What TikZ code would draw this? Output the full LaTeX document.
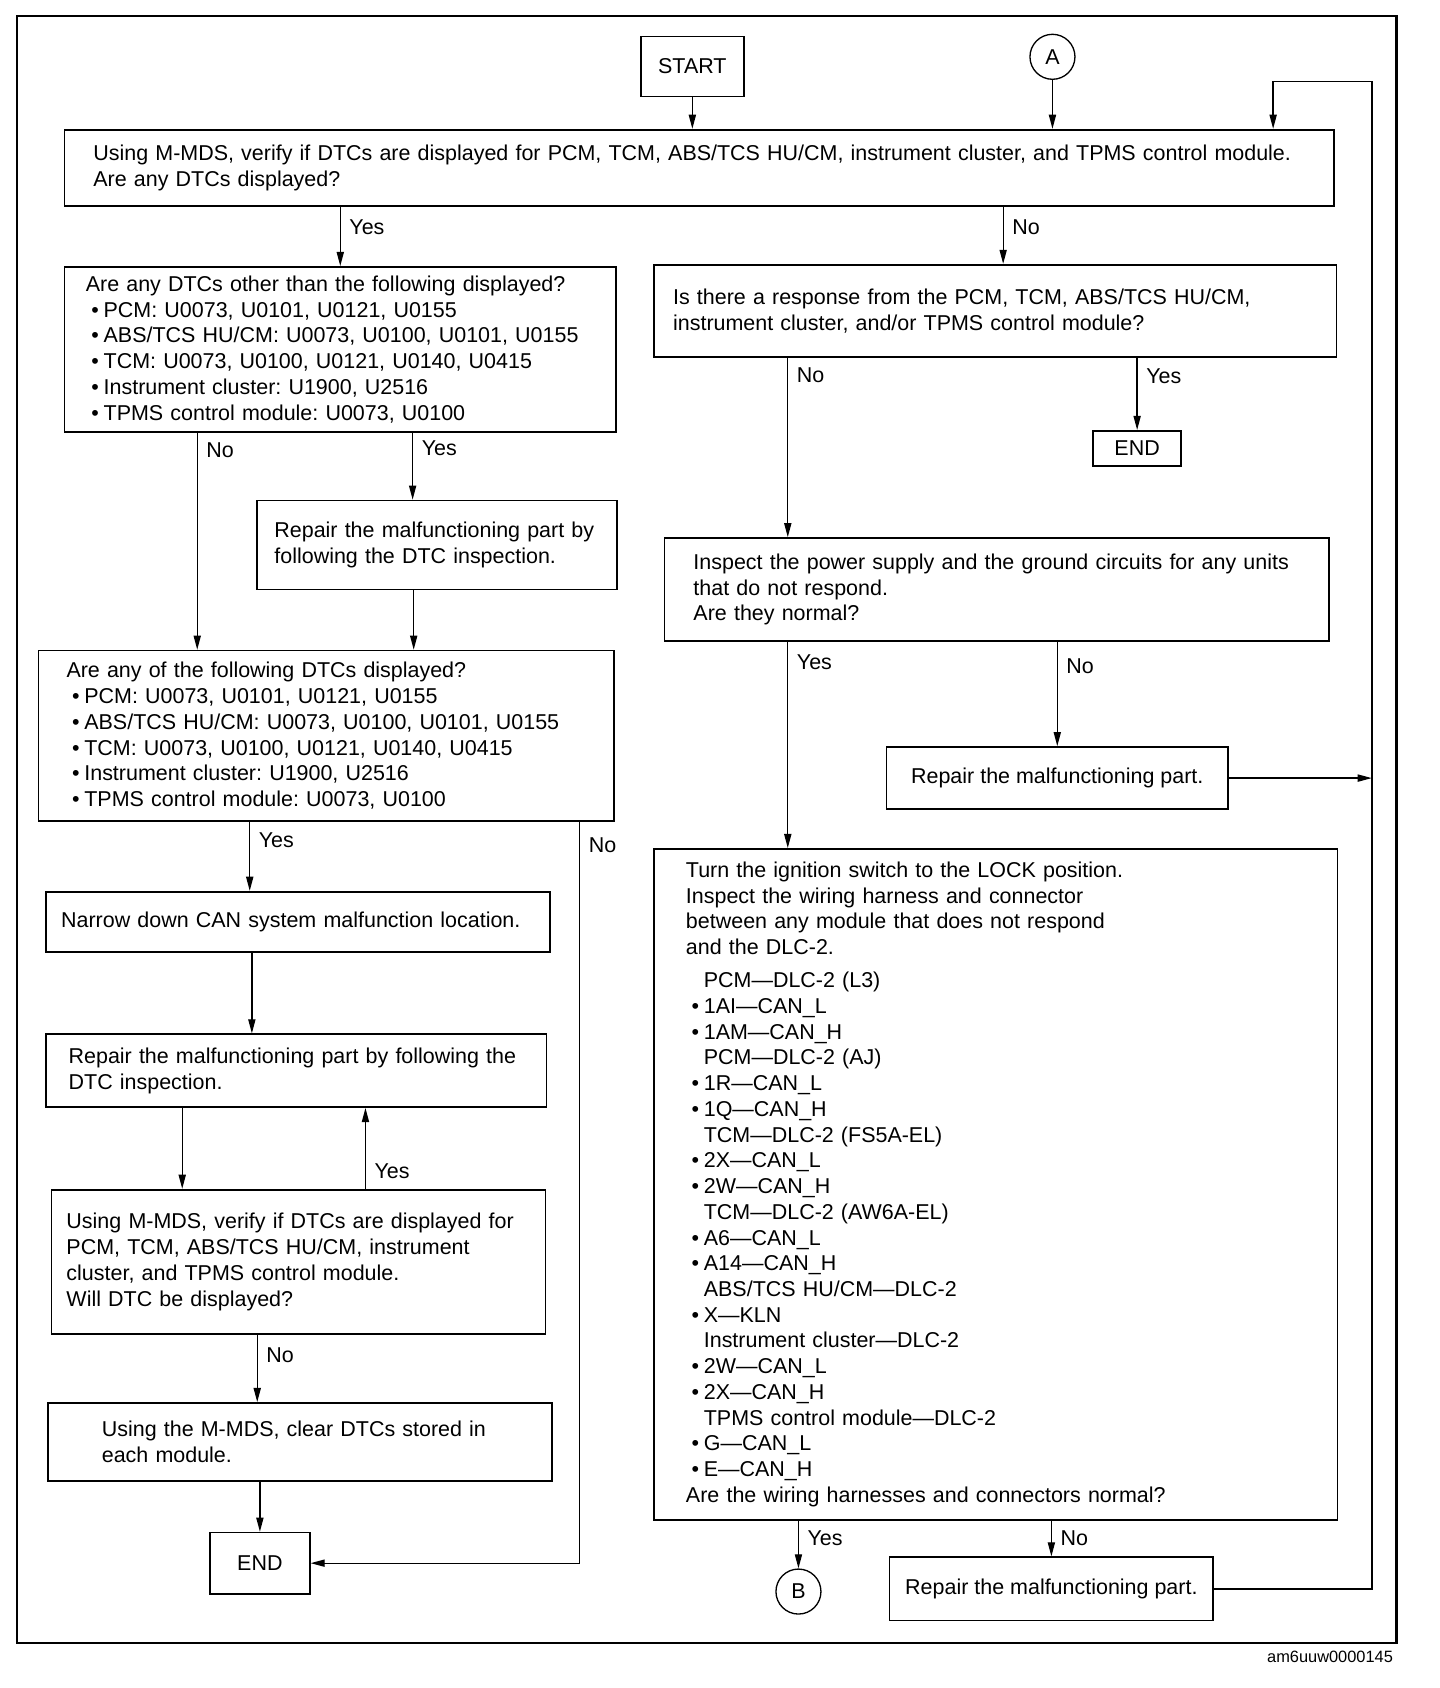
\documentclass[tikz,border=0pt]{standalone}
\usepackage{fontspec}
\setmainfont{Liberation Sans}
\usepackage{tikz}
\usetikzlibrary{arrows.meta, positioning, calc}

\newcommand{\itemb}{\hspace*{3pt}\textbullet\hspace{2.5pt}}
\newcommand{\itemh}{\hspace*{3pt}\phantom{\textbullet}\hspace{2.5pt}}

\begin{document}
\frenchspacing
\begin{tikzpicture}[x=0.02cm, y=-0.02cm,
  box/.style={draw, line width=0.9pt, align=left, inner ysep=0pt, font=\fontsize{11.4}{13.66}\selectfont},
  endbox/.style={draw, line width=0.9pt, align=center, inner sep=0pt, font=\fontsize{11.4}{13.66}\selectfont},
  conn/.style={draw, circle, line width=0.7pt, minimum size=0.84cm, inner sep=0pt, font=\fontsize{11.4}{13.66}\selectfont},
  arr/.style={-{Triangle[length=7.5pt, width=3.8pt]}, line width=0.7pt},
  lbl/.style={right, inner xsep=4.5pt, font=\fontsize{11.4}{13.66}\selectfont}
]
  \useasboundingbox (0,0) rectangle (1343,1575);
  \draw[line width=1.1pt] (16,15) rectangle (1303,1533);
  \node[anchor=east, inner sep=0pt, font=\fontsize{8.7}{10}\selectfont] (tag) at (1300,1546) {am6uuw0000145};

  \node[endbox, minimum width=1.92cm, minimum height=1.12cm] (start) at (646,62) {START};
  \node[conn] (A) at (982,53) {A};
  \node[box, minimum width=23.7cm, minimum height=1.42cm, text width=22.62cm, inner xsep=0.54cm] (verify) at (652.5,156.5) {
    Using M-MDS, verify if DTCs are displayed for PCM, TCM, ABS/TCS HU/CM, instrument cluster, and TPMS control module.\\
    Are any DTCs displayed?};

  % left branch
  \node[box, minimum width=10.3cm, minimum height=3.08cm, text width=9.5cm, inner xsep=0.4cm] (other) at (317.5,326) {
    Are any DTCs other than the following displayed?\\
    \itemb PCM: U0073, U0101, U0121, U0155\\
    \itemb ABS/TCS HU/CM: U0073, U0100, U0101, U0155\\
    \itemb TCM: U0073, U0100, U0121, U0140, U0415\\
    \itemb Instrument cluster: U1900, U2516\\
    \itemb TPMS control module: U0073, U0100};
  \node[box, minimum width=6.72cm, minimum height=1.66cm, text width=6.08cm, inner xsep=0.32cm] (fixdtc) at (408,508.5) {
    Repair the malfunctioning part by\\
    following the DTC inspection.};
  \node[box, minimum width=10.74cm, minimum height=3.18cm, text width=9.7cm, inner xsep=0.52cm] (listed) at (304.5,686.5) {
    Are any of the following DTCs displayed?\\
    \itemb PCM: U0073, U0101, U0121, U0155\\
    \itemb ABS/TCS HU/CM: U0073, U0100, U0101, U0155\\
    \itemb TCM: U0073, U0100, U0121, U0140, U0415\\
    \itemb Instrument cluster: U1900, U2516\\
    \itemb TPMS control module: U0073, U0100};
  \node[box, minimum width=9.4cm, minimum height=1.12cm, text width=8.84cm, inner xsep=0.28cm] (narrow) at (278,860) {
    Narrow down CAN system malfunction location.};
  \node[box, minimum width=9.34cm, minimum height=1.36cm, text width=8.5cm, inner xsep=0.42cm] (fixcan) at (276.5,999) {
    Repair the malfunctioning part by following the\\
    DTC inspection.};
  \node[box, minimum width=9.22cm, minimum height=2.7cm, text width=8.66cm, inner xsep=0.28cm] (recheck) at (278.5,1177.5) {
    Using M-MDS, verify if DTCs are displayed for\\
    PCM, TCM, ABS/TCS HU/CM, instrument\\
    cluster, and TPMS control module.\\
    Will DTC be displayed?};
  \node[box, minimum width=9.4cm, minimum height=1.46cm, text width=7.4cm, inner xsep=1cm] (clear) at (280,1345.5) {
    Using the M-MDS, clear DTCs stored in\\
    each module.};
  \node[endbox, minimum width=1.86cm, minimum height=1.14cm] (end2) at (242.5,1458.5) {END};

  % right branch
  \node[box, minimum width=12.74cm, minimum height=1.72cm, text width=12.02cm, inner xsep=0.36cm] (resp) at (928.5,290) {
    Is there a response from the PCM, TCM, ABS/TCS HU/CM,\\
    instrument cluster, and/or TPMS control module?};
  \node[endbox, minimum width=1.64cm, minimum height=0.66cm] (end1) at (1061,418.5) {END};
  \node[box, minimum width=12.4cm, minimum height=1.92cm, text width=11.32cm, inner xsep=0.54cm] (power) at (930,550) {
    Inspect the power supply and the ground circuits for any units\\
    that do not respond.\\
    Are they normal?};
  \node[endbox, minimum width=6.38cm, minimum height=1.16cm] (fixpart) at (986.5,726) {Repair the malfunctioning part.};
  \node[box, minimum width=12.76cm, minimum height=12.52cm, text width=11.56cm, inner xsep=0.6cm] (harness) at (929,1105) {
    Turn the ignition switch to the LOCK position.\\
    Inspect the wiring harness and connector\\
    between any module that does not respond\\
    and the DLC-2.\\[4pt]
    \itemh PCM---DLC-2 (L3)\\
    \itemb 1AI---CAN\_L\\
    \itemb 1AM---CAN\_H\\
    \itemh PCM---DLC-2 (AJ)\\
    \itemb 1R---CAN\_L\\
    \itemb 1Q---CAN\_H\\
    \itemh TCM---DLC-2 (FS5A-EL)\\
    \itemb 2X---CAN\_L\\
    \itemb 2W---CAN\_H\\
    \itemh TCM---DLC-2 (AW6A-EL)\\
    \itemb A6---CAN\_L\\
    \itemb A14---CAN\_H\\
    \itemh ABS/TCS HU/CM---DLC-2\\
    \itemb X---KLN\\
    \itemh Instrument cluster---DLC-2\\
    \itemb 2W---CAN\_L\\
    \itemb 2X---CAN\_H\\
    \itemh TPMS control module---DLC-2\\
    \itemb G---CAN\_L\\
    \itemb E---CAN\_H\\
    Are the wiring harnesses and connectors normal?};
  \node[conn] (B) at (745,1485) {B};
  \node[endbox, minimum width=6.04cm, minimum height=1.18cm] (fixwire) at (981,1482.5) {Repair the malfunctioning part.};
  \coordinate (rtop) at (1280,76);

  % connectors
  \draw[arr] (start.south) -- (start.south |- verify.north);
  \draw[arr] (A.south) -- (A.south |- verify.north);
  \draw[arr] (verify.south -| other.north) -- (other.north) node[lbl, pos=0.35] {Yes};
  \draw[arr] ([xshift=0.15cm]resp.north |- verify.south) -- ([xshift=0.15cm]resp.north) node[lbl, pos=0.36] {No};
  \draw[arr] ([xshift=-2.67cm]other.south) -- ([xshift=-2.67cm]other.south |- listed.north) node[lbl, pos=0.08] {No};
  \draw[arr] ([xshift=-0.46cm]fixdtc.north |- other.south) -- ([xshift=-0.46cm]fixdtc.north) node[lbl, pos=0.23] {Yes};
  \draw[arr] ([xshift=-0.44cm]fixdtc.south) -- ([xshift=-0.44cm]fixdtc.south |- listed.north);
  \draw[arr] ([xshift=-0.9cm]narrow.north |- listed.south) -- ([xshift=-0.9cm]narrow.north) node[lbl, pos=0.27] {Yes};
  \draw[arr] ([xshift=4.73cm]listed.south) |- (end2.east) node[lbl, pos=0.016] {No};
  \draw[arr] ([xshift=-0.86cm]narrow.south) -- ([xshift=-0.86cm]narrow.south |- fixcan.north);
  \draw[arr] ([xshift=-2.13cm]fixcan.south) -- ([xshift=-2.13cm]fixcan.south |- recheck.north);
  \draw[arr] ([xshift=1.25cm]recheck.north) -- ([xshift=1.25cm]recheck.north |- fixcan.south) node[lbl, pos=0.22] {Yes};
  \draw[arr] ([xshift=-0.8cm]clear.north |- recheck.south) -- ([xshift=-0.8cm]clear.north) node[lbl, pos=0.3] {No};
  \draw[arr] (end2.north |- clear.south) -- (end2.north);

  \draw[arr] ([xshift=-3.9cm]power.north |- resp.south) -- ([xshift=-3.9cm]power.north) node[lbl, pos=0.1] {No};
  \draw[arr] (end1.north |- resp.south) -- (end1.north) node[lbl, pos=0.25] {Yes};
  \draw[arr] ([xshift=-3.88cm]harness.north |- power.south) -- ([xshift=-3.88cm]harness.north) node[lbl, pos=0.1] {Yes};
  \draw[arr] (fixpart.north |- power.south) -- (fixpart.north) node[lbl, pos=0.23] {No};
  \draw[arr] (fixpart.east) -- (fixpart.east -| rtop);
  \draw[arr] (B.north |- harness.south) -- (B.north) node[lbl, pos=0.37] {Yes};
  \draw[arr] (fixwire.north |- harness.south) -- (fixwire.north) node[lbl, pos=0.49] {No};
  \draw[arr] (fixwire.east) -| (rtop) -| ([xshift=10.71cm]verify.north);
\end{tikzpicture}
\end{document}
